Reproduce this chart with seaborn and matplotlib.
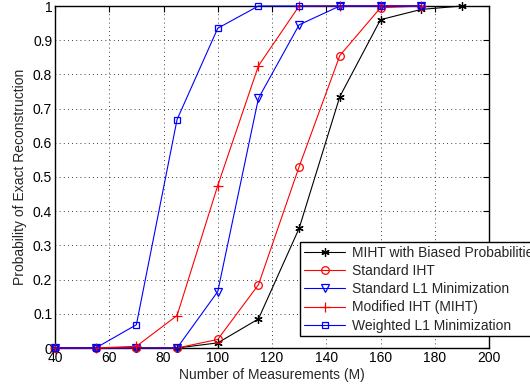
import matplotlib
matplotlib.use("Agg")
import matplotlib.pyplot as plt
import seaborn as sns
import pandas as pd

x_vals = [40, 55, 70, 85, 100, 115, 130, 145, 160, 175, 190]
miht_biased = [0, 0, 0, 0, 0.015, 0.085, 0.35, 0.735, 0.96, 0.99, 1.0]
std_iht = [0, 0, 0, 0, 0.025, 0.185, 0.53, 0.855, 0.995, 1.0]
std_l1 = [0, 0, 0, 0, 0.165, 0.73, 0.945, 1.0, 1.0, 1.0]
mod_iht = [0, 0, 0.005, 0.095, 0.475, 0.825, 1.0, 1.0, 1.0, 1.0]
weighted_l1 = [0, 0, 0.068, 0.668, 0.935, 1.0, 1.0, 1.0, 1.0, 1.0]

labels = ["MIHT with Biased Probabilities", "Standard IHT", "Standard L1 Minimization",
          "Modified IHT (MIHT)", "Weighted L1 Minimization"]
series = [miht_biased, std_iht, std_l1, mod_iht, weighted_l1]
colors = ["black", "red", "blue", "red", "blue"]
markers = [(6, 2, 0), "o", "v", "+", "s"]
msizes = [6, 5.5, 6, 7, 5]

sns.set_style("white")
plt.rcParams['font.family'] = ['Liberation Sans', 'DejaVu Sans']

fig = plt.figure(figsize=(5.30, 3.91), dpi=100)
ax = fig.add_axes([55/530, 1 - 348/391, 434/530, 342/391])

for lab, ys, c, m, ms in zip(labels, series, colors, markers, msizes):
    df = pd.DataFrame({"x": x_vals[:len(ys)], "y": ys})
    sns.lineplot(data=df, x="x", y="y", ax=ax, color=c, marker=m, markersize=ms,
                 markerfacecolor="none", markeredgecolor=c, markeredgewidth=0.9,
                 linewidth=0.8, label=lab, clip_on=False, zorder=3)

ax.set_xlim(40, 200)
ax.set_ylim(0, 1)
ax.set_xticks(range(40, 201, 20))
ax.set_yticks([i / 10 for i in range(11)])
ax.set_yticklabels(["0"] + [f"{i/10:g}" for i in range(1, 10)] + ["1"])
ax.grid(True, color="black", linestyle=(0, (1, 4)), linewidth=0.6)
ax.tick_params(direction="in", length=4, labelsize=10, colors="black", top=True, right=True, pad=2)
for s in ax.spines.values():
    s.set_color("black")
    s.set_linewidth(1.0)
ax.set_xlabel("Number of Measurements (M)", fontsize=10, labelpad=2)
ax.set_ylabel("Probability of Exact Reconstruction", fontsize=10, labelpad=4)

leg = ax.legend(loc="lower left", bbox_to_anchor=(0.565, 0.035), fontsize=10,
                frameon=True, fancybox=False, edgecolor="black", framealpha=1,
                borderpad=0.25, labelspacing=0.3, handlelength=3.0, handletextpad=0.5,
                borderaxespad=0)
leg.get_frame().set_linewidth(1.0)

fig.savefig("out.png", dpi=100)
